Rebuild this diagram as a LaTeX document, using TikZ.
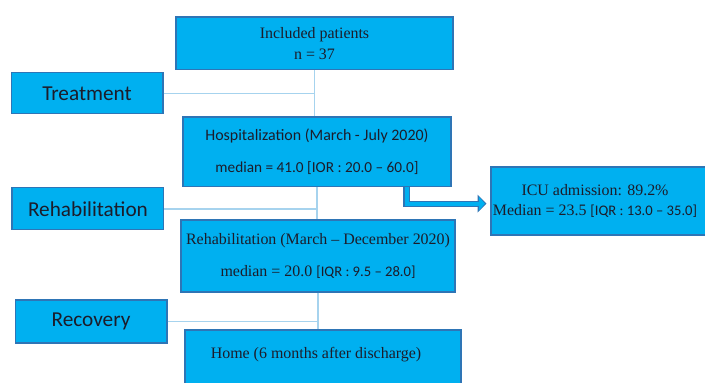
\documentclass[tikz,border=0pt]{standalone}
\usepackage{fontspec}
\setmainfont{Liberation Serif}
\newfontfamily\calibri{Carlito}
\usepackage{tikz}
\usetikzlibrary{arrows.meta}
\definecolor{boxcyan}{HTML}{00B0F0}
\definecolor{boxedge}{HTML}{2E75B6}
\definecolor{linkblue}{HTML}{A6D3EE}
\definecolor{inkdark}{HTML}{1C1C2A}
\tikzset{
every picture/.style={line width=0.8pt},
%%%%%%%%%%  Node styles
box/.style={rectangle, fill=boxcyan, draw=boxedge, line width=0.8pt, text=inkdark,
            align=center, inner sep=0pt, font=\fontsize{12}{14.4}\selectfont},
sidebox/.style={box, minimum width=4.02cm, font=\calibri\fontsize{16}{19}\selectfont},
plaintext/.style={inner sep=0pt, outer sep=0pt, text=inkdark, align=center,
                  font=\fontsize{12}{15}\selectfont},
%%%% line styles
link/.style={draw=linkblue, line width=1.1pt},
block_arrow/.style={line width=3pt, draw=boxcyan,
                    -{Triangle[length=4.4pt,width=10pt]}, shorten >=4.2pt,
                    preaction={draw=boxedge, line width=4.6pt,
                               -{Triangle[length=6.6pt,width=13pt]}, shorten >=3pt}}
}

\begin{document}
\begin{tikzpicture}
\useasboundingbox (0,0) rectangle (18.653,10.133);
%% main column
\node[box, minimum width=7.33cm, minimum height=1.40cm] (incl) at (8.321,8.983)
  {Included patients\\[2pt] n = 37};
\node[box, minimum width=7.09cm, minimum height=1.85cm,
      font=\calibri\fontsize{12}{14.4}\selectfont] (hosp) at (8.387,6.112)
  {Hospitalization (March - July 2020)\\[10pt]
   {\fontsize{11.5}{14}\selectfont median = 41.0 [IOR : 20.0 – 60.0]}};
\node[box, minimum width=7.25cm, minimum height=1.905cm] (rehab) at (8.414,3.360)
  {Rehabilitation (March – December 2020)\\[9pt]
   median = 20.0 {\calibri\fontsize{11}{13}\selectfont [IQR : 9.5 – 28.0]}};
\node[box, minimum width=7.302cm, minimum height=1.72cm] (home) at (8.546,0.542) {};
\node[plaintext] (hometext) at (8.361,0.741) {Home (6 months after discharge)};
%% phases on the left
\node[sidebox, minimum height=1.085cm] (treat) at (2.302,7.660) {Treatment};
\node[sidebox, minimum height=1.111cm] (rehabside) at (2.328,4.604) {Rehabilitation};
\node[sidebox, minimum height=1.138cm] (recov) at (2.408,1.627) {Recovery};
%% ICU box
\node[box, minimum width=6.059cm, minimum height=1.799cm] (icu) at (16.020,4.815) {};
\node[plaintext] (icutext) at (15.743,4.815)
  {ICU admission: 89.2\%\\
   Median = 23.5 {\calibri\fontsize{11}{13}\selectfont [IQR : 13.0 – 35.0]}};
%% connectors
\draw[link] (incl.south) -- (incl.south |- hosp.north);
\draw[link] (treat.east) -- (treat.east -| incl.south);
\draw[link] (hosp.south) -- (hosp.south |- rehab.north);
\draw[link] (rehabside.east) -- (rehabside.east -| hosp.south);
\draw[link] (rehab.south) -- (rehab.south |- home.north);
\draw[link] (recov.east) -- (recov.east -| rehab.south);
%%
\draw[block_arrow] ([xshift=-1.19cm]hosp.south east) |- ([yshift=-2pt]icu.west);
\end{tikzpicture}
\end{document}
